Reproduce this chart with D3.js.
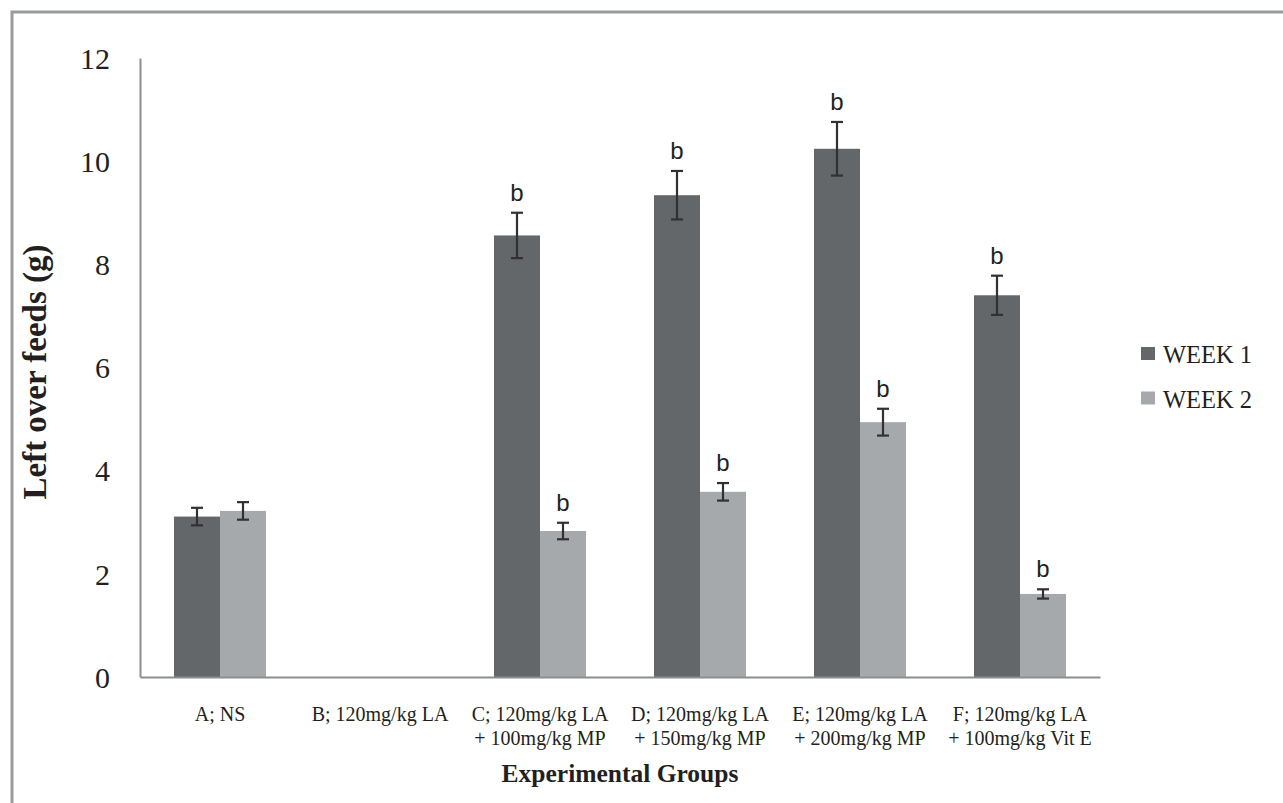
<!DOCTYPE html>
<html>
<head>
<meta charset="utf-8">
<script src="https://cdn.jsdelivr.net/npm/d3@7"></script>
<style>
  html, body { margin: 0; padding: 0; background: #fff; }
  svg { display: block; }
</style>
</head>
<body>
<svg id="chart" width="1283" height="803"></svg>
<script>
const categories = [
  ["A; NS"],
  ["B; 120mg/kg LA"],
  ["C; 120mg/kg LA", "+ 100mg/kg MP"],
  ["D; 120mg/kg LA", "+ 150mg/kg MP"],
  ["E; 120mg/kg LA", "+ 200mg/kg MP"],
  ["F; 120mg/kg LA", "+ 100mg/kg Vit E"]
];
const seriesNames = ["WEEK 1", "WEEK 2"];
const week1 = [3.11, 0, 8.56, 9.34, 10.24, 7.40];
const week2 = [3.22, 0, 2.83, 3.59, 4.94, 1.61];
const week1Err = [0.17, 0, 0.44, 0.47, 0.52, 0.38];
const week2Err = [0.17, 0, 0.16, 0.17, 0.26, 0.09];
const week1Sig = ["", "", "b", "b", "b", "b"];
const week2Sig = ["", "", "b", "b", "b", "b"];
const yTicks = [0, 2, 4, 6, 8, 10, 12];
const colors = ["#63676a", "#a6a9ac"];

(function() {
const svg = d3.select("#chart");
const mLeft = 140, mRight = 1100, mTop = 58, mBottom = 677;
const serif = "'Liberation Serif', 'Times New Roman', serif";

// outer frame (top and left edges visible)
svg.append("rect").attr("x", 12).attr("y", 12).attr("width", 1400).attr("height", 900)
  .attr("fill", "none").attr("stroke", "#9a9c9b").attr("stroke-width", 3);

const x0 = d3.scaleBand().domain(d3.range(categories.length)).range([mLeft, mRight])
  .paddingInner(0.425).paddingOuter(0.2125);
const x1 = d3.scaleBand().domain([0, 1]).range([0, x0.bandwidth()]);
const y = d3.scaleLinear().domain([0, 12]).range([mBottom, mTop]);

const series = [
  {vals: week1, err: week1Err, sig: week1Sig},
  {vals: week2, err: week2Err, sig: week2Sig}
];

// bars
series.forEach((s, si) => {
  const g = svg.append("g");
  g.selectAll("rect").data(s.vals).join("rect")
    .attr("x", (d, i) => x0(i) + x1(si))
    .attr("y", d => y(d))
    .attr("width", x1.bandwidth())
    .attr("height", d => y(0) - y(d))
    .attr("fill", colors[si]);
});

// axes
const yAxis = d3.axisLeft(y).tickValues(yTicks).tickSize(0).tickPadding(30);
const ya = svg.append("g").attr("transform", `translate(${mLeft},0)`).call(yAxis);
ya.select(".domain").attr("stroke", "#8c8e8f").attr("stroke-width", 2);
ya.selectAll("text").attr("font-family", serif)
  .attr("font-size", 30).attr("fill", "#231f20").attr("dy", "0.34em");

const xa = svg.append("g").attr("transform", `translate(0,${mBottom})`)
  .call(d3.axisBottom(x0).tickSize(0).tickFormat(""));
xa.select(".domain").attr("stroke", "#8c8e8f").attr("stroke-width", 2);

// x labels
svg.append("g").selectAll("text").data(categories).join("text")
  .attr("x", (d, i) => x0(i) + x0.bandwidth() / 2)
  .attr("y", 721)
  .attr("text-anchor", "middle")
  .attr("font-family", serif)
  .attr("font-size", 20).attr("fill", "#231f20")
  .each(function(d) {
    const t = d3.select(this);
    d.forEach((line, li) => {
      t.append("tspan").attr("x", t.attr("x")).attr("dy", li === 0 ? 0 : 24).text(line);
    });
  });

// error bars and significance letters
series.forEach((s, si) => {
  const g = svg.append("g");
  s.vals.forEach((v, i) => {
    if (v === 0) return;
    const cx = x0(i) + x1(si) + x1.bandwidth() / 2;
    const y1 = y(v + s.err[i]), y2 = y(v - s.err[i]);
    g.append("line").attr("x1", cx).attr("x2", cx).attr("y1", y1).attr("y2", y2)
      .attr("stroke", "#333033").attr("stroke-width", 2.2);
    [y1, y2].forEach(yy => g.append("line").attr("x1", cx - 6).attr("x2", cx + 6)
      .attr("y1", yy).attr("y2", yy).attr("stroke", "#333033").attr("stroke-width", 2.2));
    if (s.sig[i]) {
      g.append("text").attr("x", cx).attr("y", y1 - 12).attr("text-anchor", "middle")
        .attr("font-family", "'Liberation Sans', Arial, sans-serif")
        .attr("font-size", 24).attr("fill", "#231f20").text(s.sig[i]);
    }
  });
});

// axis titles
svg.append("text").attr("transform", `translate(46,372) rotate(-90)`)
  .attr("text-anchor", "middle")
  .attr("font-family", serif)
  .attr("font-weight", "bold").attr("font-size", 33).attr("fill", "#231f20")
  .text("Left over feeds (g)");
svg.append("text").attr("x", (mLeft + mRight) / 2).attr("y", 782)
  .attr("text-anchor", "middle")
  .attr("font-family", serif)
  .attr("font-weight", "bold").attr("font-size", 25.5).attr("fill", "#231f20")
  .text("Experimental Groups");

// legend
const lg = svg.append("g").attr("transform", "translate(1141,347)");
seriesNames.forEach((n, i) => {
  lg.append("rect").attr("x", 0).attr("y", i * 44.5).attr("width", 14).attr("height", 13).attr("fill", colors[i]);
  lg.append("text").attr("x", 22).attr("y", i * 44.5 + 16)
    .attr("font-family", serif)
    .attr("font-size", 24.5).attr("fill", "#231f20").text(n);
});
})();
</script>
</body>
</html>
